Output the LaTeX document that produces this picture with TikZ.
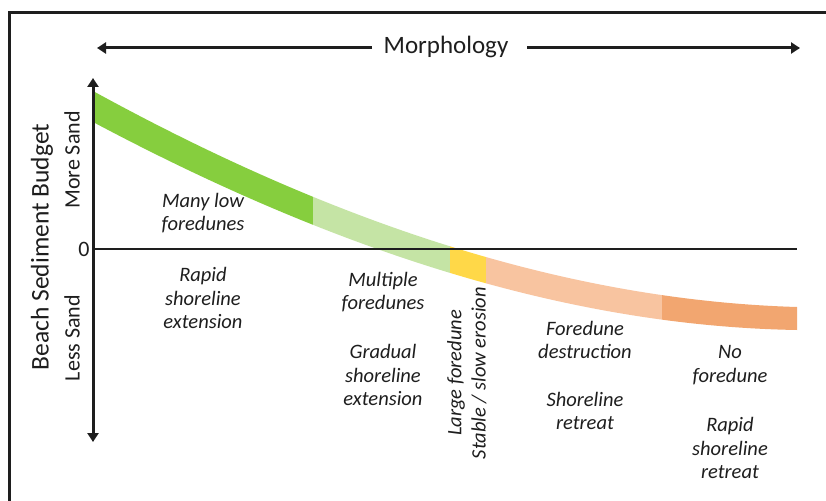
\documentclass[tikz,border=0pt]{standalone}
\usepackage{fontspec}
\setmainfont{Carlito}
\usetikzlibrary{arrows.meta}
\definecolor{dkgreen}{RGB}{134,206,62}
\definecolor{ltgreen}{RGB}{197,228,165}
\definecolor{sunny}{RGB}{255,216,72}
\definecolor{peach}{RGB}{248,196,160}
\definecolor{dkorange}{RGB}{242,166,112}
\definecolor{ink}{RGB}{30,30,30}
\tikzset{
  lab/.style={font=\fontsize{20.5}{23.5}\selectfont\itshape, align=center, text=ink, inner sep=0pt},
  axlab/.style={font=\fontsize{22}{26}\selectfont, text=ink, inner sep=0pt, rotate=90},
  bigarrow/.style={line width=3pt, draw=ink, -{Triangle[length=9pt,width=11pt]}},
}
\newcommand{\bandpath}{(93,91) .. controls (328,220) and (562,300) .. (797,307) -- (797,330) .. controls (562,326) and (328,247) .. (93,122) -- cycle}
\begin{document}
\begin{tikzpicture}[x=1pt,y=-1pt]
\useasboundingbox (0,0) rectangle (826,500);
\fill[white] (0,0) rectangle (826,500);
% frame
\draw[line width=3pt, ink] (9,505) -- (9,13) -- (830,13);
% band strips
\foreach \xa/\xb/\col in {93/313/dkgreen, 313/450/ltgreen, 450/486/sunny, 486/662/peach, 662/797/dkorange}{
  \begin{scope}
    \clip (\xa,0) rectangle (\xb,500);
    \fill[\col] \bandpath;
  \end{scope}
}
% zero line
\coordinate (z0) at (93,249);
\coordinate (z1) at (797,249);
\draw[line width=2pt, ink] (z0) -- (z1);
% vertical axis
\coordinate (vtop) at (93,78);
\coordinate (vbot) at (93,442);
\draw[line width=3pt, ink, {Triangle[length=9pt,width=11pt]}-{Triangle[length=9pt,width=11pt]}] (vbot) -- (vtop);
% morphology
\node[font=\fontsize{25}{29}\selectfont, text=ink, inner sep=0pt] (morph) at (446,47) {Morphology};
\coordinate (mleft) at (97,48);
\coordinate (mright) at (800,48);
\draw[bigarrow] (372,48) -- (mleft);
\draw[bigarrow] (527,48) -- (mright);
% axis labels
\node[axlab, font=\fontsize{25.5}{29}\selectfont] (budget) at (42,247) {Beach Sediment Budget};
\node[axlab] (more) at (72,160) {More Sand};
\node[axlab] (less) at (72,338) {Less Sand};
\node[font=\fontsize{22}{26}\selectfont, text=ink, inner sep=0pt] (zero) at (84,249) {0};
% labels
\node[lab] (many) at (203,213) {Many low\\foredunes};
\node[lab] (rapidext) at (203,298) {Rapid\\shoreline\\extension};
\node[lab] (multiple) at (383,292) {Multiple\\foredunes};
\node[lab] (gradual) at (383,375) {Gradual\\shoreline\\extension};
\node[lab, rotate=90] (large) at (456,373) {Large foredune};
\node[lab, rotate=90] (stable) at (479,373) {Stable / slow erosion};
\node[lab] (destr) at (585,340) {Foredune\\destruction};
\node[lab] (retreat) at (585,411) {Shoreline\\retreat};
\node[lab] (nofd) at (730,365) {No\\foredune};
\node[lab] (rapidret) at (730,448) {Rapid\\shoreline\\retreat};
\end{tikzpicture}
\end{document}
